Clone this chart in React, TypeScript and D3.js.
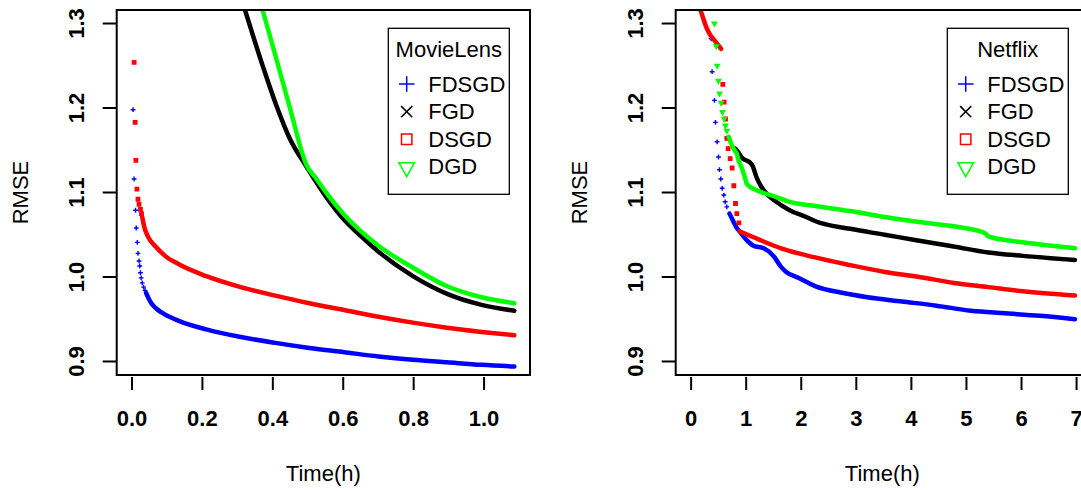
import React from 'react';
import * as d3 from 'd3';

type Pt = [number, number];

const seriesNames = ['FDSGD', 'FGD', 'DSGD', 'DGD'];
const seriesColors = ['#0000ff', '#000000', '#ff0000', '#00ff00'];
const seriesShapes = ['plus', 'times', 'square', 'triangle'];

const yTicks = [0.9, 1.0, 1.1, 1.2, 1.3];
const mlXTicks = [0, 0.2, 0.4, 0.6, 0.8, 1.0];
const nfXTicks = [0, 1, 2, 3, 4, 5, 6, 7];

// MovieLens panel (time in hours, RMSE)
const mlFdsgdDots: Pt[] = [
  [0.003, 1.198], [0.006, 1.116], [0.010, 1.079], [0.012, 1.058], [0.015, 1.041],
  [0.017, 1.028], [0.020, 1.019], [0.022, 1.013], [0.024, 1.005], [0.026, 0.999],
  [0.029, 0.993], [0.033, 0.988], [0.037, 0.984],
];
const mlFdsgdLine: Pt[] = [
  [0.040, 0.981], [0.048, 0.974], [0.055, 0.969], [0.068, 0.963], [0.084, 0.958],
  [0.133, 0.948], [0.211, 0.938], [0.309, 0.929], [0.407, 0.922], [0.504, 0.916],
  [0.602, 0.911], [0.700, 0.906], [0.798, 0.902], [0.895, 0.899], [0.993, 0.896],
  [1.086, 0.894],
];
const mlFgdLine: Pt[] = [
  [0.321, 1.316], [0.372, 1.249], [0.410, 1.203], [0.448, 1.164], [0.495, 1.131],
  [0.553, 1.094], [0.602, 1.068], [0.651, 1.048], [0.700, 1.030], [0.798, 1.001],
  [0.895, 0.980], [0.993, 0.967], [1.086, 0.960],
];
const mlDsgdDots: Pt[] = [
  [0.006, 1.254], [0.009, 1.183], [0.011, 1.138], [0.014, 1.104], [0.017, 1.092],
  [0.020, 1.086], [0.024, 1.080], [0.027, 1.075],
];
const mlDsgdLine: Pt[] = [
  [0.029, 1.071], [0.035, 1.059], [0.045, 1.048], [0.067, 1.036], [0.094, 1.025],
  [0.133, 1.015], [0.211, 1.001], [0.309, 0.988], [0.407, 0.978], [0.504, 0.969],
  [0.602, 0.961], [0.700, 0.953], [0.798, 0.946], [0.895, 0.940], [0.993, 0.935],
  [1.086, 0.931],
];
const mlDgdLine: Pt[] = [
  [0.371, 1.316], [0.410, 1.258], [0.448, 1.201], [0.495, 1.133], [0.524, 1.116],
  [0.553, 1.099], [0.602, 1.074], [0.700, 1.037], [0.798, 1.011], [0.895, 0.989],
  [0.993, 0.976], [1.086, 0.969],
];

// Netflix panel
const nfFdsgdDots: Pt[] = [
  [0.364, 1.282], [0.381, 1.243], [0.424, 1.209], [0.442, 1.183], [0.472, 1.160],
  [0.497, 1.142], [0.515, 1.127], [0.539, 1.116], [0.564, 1.105], [0.594, 1.097],
  [0.618, 1.089], [0.648, 1.083],
];
const nfFdsgdLine: Pt[] = [
  [0.697, 1.075], [0.758, 1.067], [0.830, 1.058], [0.879, 1.054], [1.005, 1.044],
  [1.133, 1.037], [1.320, 1.034], [1.507, 1.024], [1.633, 1.012], [1.727, 1.006],
  [1.947, 0.999], [2.260, 0.989], [2.764, 0.981], [3.202, 0.976], [3.829, 0.971],
  [4.457, 0.966], [5.083, 0.960], [5.711, 0.957], [6.338, 0.954], [6.970, 0.950],
];
const nfFgdLine: Pt[] = [
  [0.800, 1.152], [0.850, 1.148], [0.939, 1.140], [1.060, 1.136], [1.120, 1.131],
  [1.182, 1.119], [1.273, 1.107], [1.394, 1.097], [1.545, 1.089], [1.788, 1.079],
  [2.090, 1.071], [2.260, 1.066], [2.889, 1.057], [3.515, 1.050], [4.143, 1.043],
  [4.770, 1.036], [5.398, 1.029], [6.025, 1.025], [6.970, 1.020],
];
const nfDsgdHead: Pt[] = [
  [0.169, 1.316], [0.211, 1.308], [0.273, 1.296], [0.333, 1.288], [0.424, 1.280],
  [0.485, 1.275], [0.545, 1.270],
];
const nfDsgdDots: Pt[] = [
  [0.576, 1.228], [0.600, 1.207], [0.624, 1.187], [0.648, 1.164], [0.672, 1.152],
  [0.709, 1.140], [0.745, 1.129], [0.775, 1.108], [0.806, 1.087], [0.830, 1.075],
  [0.867, 1.064],
];
const nfDsgdTail: Pt[] = [
  [0.879, 1.054], [1.133, 1.047], [1.633, 1.034], [2.010, 1.027], [2.889, 1.014],
  [3.515, 1.006], [4.143, 1.000], [4.770, 0.993], [5.398, 0.988], [6.025, 0.983],
  [6.970, 0.978],
];
const nfDgdDots: Pt[] = [
  [0.424, 1.300], [0.455, 1.273], [0.473, 1.250], [0.497, 1.232], [0.515, 1.217],
  [0.545, 1.206], [0.570, 1.195], [0.600, 1.187], [0.624, 1.179], [0.648, 1.173],
];
const nfDgdLine: Pt[] = [
  [0.685, 1.166], [0.727, 1.158], [0.788, 1.150], [0.830, 1.146], [0.861, 1.138],
  [0.909, 1.131], [0.952, 1.123], [0.988, 1.115], [1.012, 1.110], [1.182, 1.103],
  [1.485, 1.096], [1.788, 1.089], [2.260, 1.084], [2.889, 1.078], [3.515, 1.071],
  [4.143, 1.065], [4.770, 1.060], [5.334, 1.052], [5.398, 1.048], [6.025, 1.041],
  [6.970, 1.034],
];

const FONT = '"Liberation Sans", Arial, Helvetica, sans-serif';
const W = 1081;
const H = 491;
const PANEL_W = 559;
const BOX_TOP = 10;
const BOX_BOTTOM = 375;
const BOX_LEFT = 116.7;

function markerPath(shape: string, cx: number, cy: number, s: number) {
  if (shape === 'plus') return `M${cx - s},${cy}H${cx + s}M${cx},${cy - s}V${cy + s}`;
  if (shape === 'times') return `M${cx - s},${cy - s}L${cx + s},${cy + s}M${cx - s},${cy + s}L${cx + s},${cy - s}`;
  if (shape === 'square') return `M${cx - s},${cy - s}H${cx + s}V${cy + s}H${cx - s}Z`;
  return `M${cx - s},${cy - s * 0.65}H${cx + s}L${cx},${cy + s * 1.15}Z`;
}

const dotSize: Record<string, number> = { plus: 2.4, times: 2.2, square: 1.7, triangle: 2.2 };

type Series = { idx: number; dots: Pt[]; lines: Pt[][] };

function Panel({ offset, title, xMax, boxRight, xTicks, fmt, series }: {
  offset: number; title: string; xMax: number; boxRight: number;
  xTicks: number[]; fmt: (n: number) => string; series: Series[];
}) {
  const left = offset + BOX_LEFT;
  const right = offset + boxRight;
  const x = d3.scaleLinear().domain([-0.04 * xMax, 1.04 * xMax]).range([left, right]);
  const y = d3.scaleLinear().domain([0.884, 1.316]).range([BOX_BOTTOM, BOX_TOP]);
  const line = d3.line<Pt>().x((d) => x(d[0])).y((d) => y(d[1])).curve(d3.curveMonotoneX);
  const clipId = `clip-${title}`;
  const yFmt = d3.format('.1f');

  const legX = offset + 388.3;
  const legRows = [84, 111.7, 139.3, 166.7];
  const legendSizes = [7.8, 5.6, 5.2, 7.8];

  return (
    <g>
      <defs>
        <clipPath id={clipId}>
          <rect x={left} y={BOX_TOP} width={right - left} height={BOX_BOTTOM - BOX_TOP} />
        </clipPath>
      </defs>
      <g clipPath={`url(#${clipId})`}>
        {series.map((s) => {
          const shape = seriesShapes[s.idx];
          const col = seriesColors[s.idx];
          return (
            <g key={s.idx}>
              {s.lines.map((seg, i) => (
                <path key={i} d={line(seg) || ''} fill="none" stroke={col}
                  strokeWidth={4.5} strokeLinejoin="round" strokeLinecap="round" />
              ))}
              {s.dots.map((d, i) => (
                <path key={`d${i}`} d={markerPath(shape, x(d[0]), y(d[1]), dotSize[shape])}
                  fill={shape === 'square' || shape === 'triangle' ? col : 'none'}
                  stroke={col} strokeWidth={1.4} />
              ))}
            </g>
          );
        })}
      </g>
      <rect x={left} y={BOX_TOP} width={right - left} height={BOX_BOTTOM - BOX_TOP}
        fill="none" stroke="#000" strokeWidth={2} />
      {yTicks.map((t) => (
        <g key={t}>
          <line x1={left - 14} x2={left} y1={y(t)} y2={y(t)} stroke="#000" strokeWidth={2} />
          <text transform={`translate(${offset + 76},${y(t)}) rotate(-90)`} textAnchor="middle"
            dominantBaseline="central" fontFamily={FONT} fontWeight="bold" fontSize={22}>{yFmt(t)}</text>
        </g>
      ))}
      {xTicks.map((t) => (
        <g key={t}>
          <line x1={x(t)} x2={x(t)} y1={377} y2={390} stroke="#000" strokeWidth={2} />
          <text x={x(t)} y={418} textAnchor="middle" dominantBaseline="central"
            fontFamily={FONT} fontWeight="bold" fontSize={22}>{fmt(t)}</text>
        </g>
      ))}
      <text x={(left + offset + 530) / 2} y={473} textAnchor="middle" dominantBaseline="central"
        fontFamily={FONT} fontSize={22}>Time(h)</text>
      <text transform={`translate(${offset + 20.7},${(BOX_TOP + BOX_BOTTOM) / 2}) rotate(-90)`}
        textAnchor="middle" dominantBaseline="central" fontFamily={FONT} fontSize={22}>RMSE</text>

      <rect x={legX} y={28.3} width={121} height={166} fill="#fff" stroke="#000" strokeWidth={1.3} />
      <text x={legX + 60.5} y={49.3} textAnchor="middle" dominantBaseline="central"
        fontFamily={FONT} fontSize={22}>{title}</text>
      {seriesNames.map((name, i) => (
        <g key={name}>
          <path d={markerPath(seriesShapes[i], offset + 406.7, legRows[i] + (i === 3 ? 1 : 0), legendSizes[i])}
            fill="none" stroke={seriesColors[i]} strokeWidth={1.5} />
          <text x={offset + 428.3} y={legRows[i]} dominantBaseline="central"
            fontFamily={FONT} fontSize={22}>{name}</text>
        </g>
      ))}
    </g>
  );
}

export default function App() {
  const mlSeries: Series[] = [
    { idx: 0, dots: mlFdsgdDots, lines: [mlFdsgdLine] },
    { idx: 1, dots: [], lines: [mlFgdLine] },
    { idx: 2, dots: mlDsgdDots, lines: [mlDsgdLine] },
    { idx: 3, dots: [], lines: [mlDgdLine] },
  ];
  const nfSeries: Series[] = [
    { idx: 0, dots: nfFdsgdDots, lines: [nfFdsgdLine] },
    { idx: 1, dots: [], lines: [nfFgdLine] },
    { idx: 2, dots: nfDsgdDots, lines: [nfDsgdHead, nfDsgdTail] },
    { idx: 3, dots: nfDgdDots, lines: [nfDgdLine] },
  ];
  return (
    <div style={{ position: 'absolute', left: 0, top: 0, background: '#fff' }}>
      <svg width={W} height={H} style={{ display: 'block' }}>
        <rect width={W} height={H} fill="#fff" />
        <Panel offset={0} title="MovieLens" xMax={1.087} boxRight={530} xTicks={mlXTicks}
          fmt={d3.format('.1f')} series={mlSeries} />
        <Panel offset={PANEL_W} title="Netflix" xMax={7.0} boxRight={533} xTicks={nfXTicks}
          fmt={d3.format('d')} series={nfSeries} />
      </svg>
    </div>
  );
}
